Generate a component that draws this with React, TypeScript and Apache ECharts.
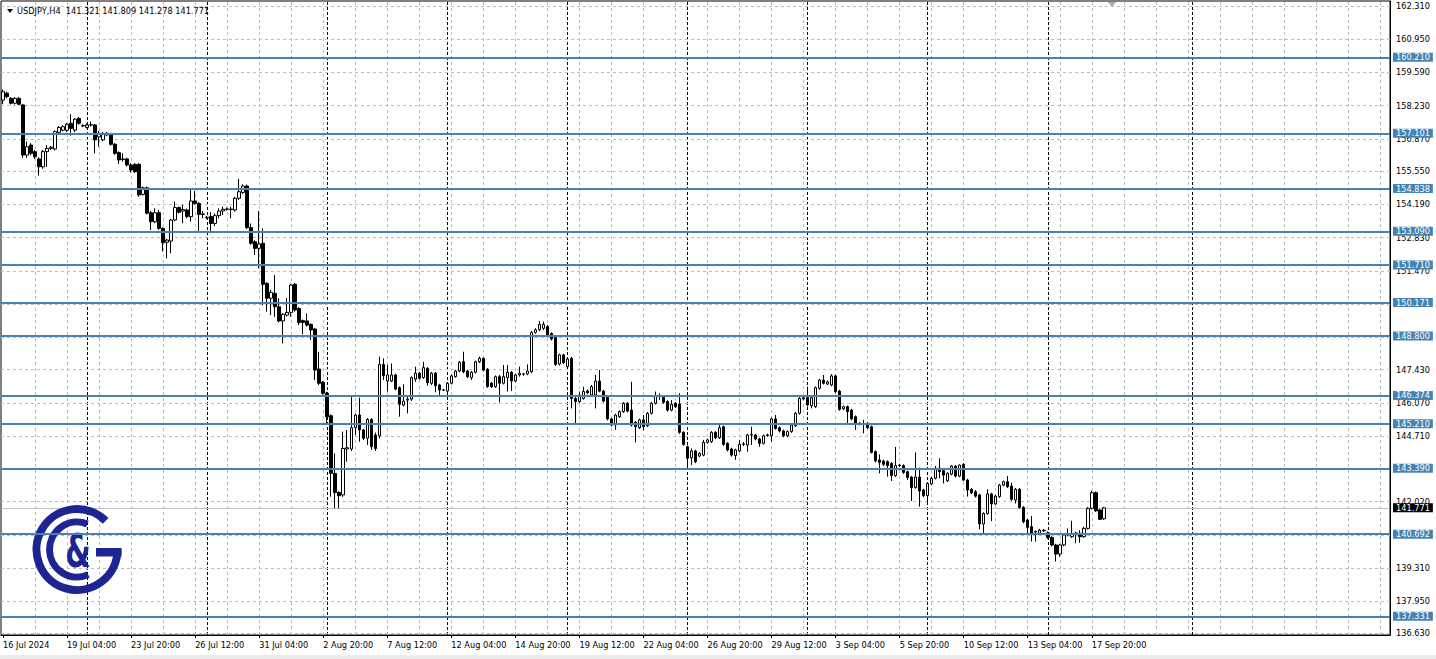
import React, { useEffect, useRef } from "react";
import * as echarts from "echarts";

// ---------- DATA ----------
const symbolTitle = "USDJPY,H4";
const lastQuote = [141.321, 141.809, 141.278, 141.771]; // open, high, low, close of the current bar

const xLabels = [
  "16 Jul 2024", "19 Jul 04:00", "23 Jul 20:00", "26 Jul 12:00", "31 Jul 04:00", "2 Aug 20:00",
  "7 Aug 12:00", "12 Aug 04:00", "14 Aug 20:00", "19 Aug 12:00", "22 Aug 04:00", "26 Aug 20:00",
  "29 Aug 12:00", "3 Sep 04:00", "5 Sep 20:00", "10 Sep 12:00", "13 Sep 04:00", "17 Sep 20:00",
];

const yTicks = [
  162.31, 160.95, 159.59, 158.23, 156.87, 155.55, 154.19, 152.83, 151.47, 150.11,
  148.75, 147.43, 146.07, 144.71, 143.35, 142.02, 140.66, 139.31, 137.95, 136.63,
];

const levels = [160.21, 157.101, 154.838, 153.09, 151.71, 150.171, 148.8, 146.374, 145.21, 143.39, 140.692, 137.331];
const currentPrice = 141.771;

// bar indices where the weekly period separators are drawn
const weekSeparators = [21, 51, 81, 111, 141, 171, 201, 231, 261, 297];

// [open, high, low, close]
const week1 = [
  [158.46, 158.90, 158.30, 158.80], [158.74, 158.80, 158.53, 158.60], [158.53, 158.58, 158.28, 158.33],
  [158.33, 158.58, 158.28, 158.53], [158.53, 158.58, 158.25, 158.29], [158.26, 158.30, 156.10, 156.21],
  [156.21, 156.76, 156.10, 156.55], [156.62, 156.70, 156.20, 156.28], [156.35, 156.42, 156.05, 156.14],
  [156.05, 156.12, 155.37, 155.73], [155.73, 156.42, 155.65, 156.35], [156.35, 156.62, 155.73, 156.48],
  [156.48, 156.58, 156.42, 156.53], [156.46, 157.22, 156.40, 157.17], [157.14, 157.40, 157.05, 157.34],
  [157.23, 157.43, 157.18, 157.37], [157.22, 157.52, 157.15, 157.47], [157.51, 157.88, 157.00, 157.30],
  [157.23, 157.73, 157.15, 157.68], [157.71, 157.77, 157.45, 157.51], [157.40, 157.47, 157.35, 157.42],
];
const week2 = [
  [157.34, 157.50, 157.30, 157.44], [157.44, 157.58, 157.38, 157.45], [157.44, 157.48, 156.28, 156.83],
  [156.95, 157.20, 156.55, 157.10], [156.83, 157.15, 156.78, 157.10], [157.10, 157.15, 156.98, 157.03],
  [157.06, 157.12, 156.60, 156.65], [156.65, 156.70, 156.22, 156.28], [156.31, 156.36, 155.84, 156.01],
  [156.02, 156.28, 155.94, 156.05], [156.05, 156.10, 155.74, 155.80], [155.80, 155.88, 155.50, 155.60],
  [155.83, 155.88, 155.48, 155.53], [155.83, 155.88, 154.50, 154.58], [154.60, 154.92, 154.55, 154.87],
  [154.87, 154.92, 153.78, 153.83], [153.85, 153.92, 153.14, 153.48], [153.48, 154.03, 153.42, 153.85],
  [153.85, 153.96, 153.15, 153.21], [153.21, 153.25, 152.26, 152.62], [152.64, 152.78, 151.98, 152.73],
  [152.69, 153.60, 152.19, 153.55], [153.55, 154.30, 153.50, 154.06], [154.06, 154.10, 153.82, 153.87],
  [153.92, 154.17, 153.42, 153.98], [153.96, 154.02, 153.62, 153.69], [153.69, 154.78, 153.48, 154.33],
  [154.33, 154.74, 154.18, 154.23], [154.23, 154.28, 153.07, 153.78], [153.78, 153.92, 153.62, 153.80],
];
const week3 = [
  [153.66, 153.72, 153.58, 153.64], [153.69, 153.87, 153.01, 153.41], [153.41, 153.82, 153.30, 153.73],
  [153.73, 154.03, 153.62, 153.92], [153.92, 154.10, 153.76, 153.99], [153.99, 154.06, 153.93, 154.00],
  [154.00, 154.10, 153.62, 153.98], [153.96, 154.50, 153.89, 154.44], [154.44, 155.23, 154.37, 154.71],
  [154.68, 155.01, 154.62, 154.94], [154.94, 155.00, 153.18, 153.24], [153.24, 153.41, 152.54, 152.60],
  [152.66, 152.72, 152.12, 152.39], [152.39, 153.92, 151.57, 152.57], [152.60, 153.21, 150.07, 150.92],
  [150.96, 151.00, 149.80, 150.35], [150.35, 150.69, 149.66, 150.59], [150.55, 151.30, 149.59, 150.00],
  [150.00, 150.35, 149.36, 149.42], [149.42, 149.74, 148.50, 149.69], [149.66, 150.35, 149.60, 149.77],
  [149.77, 150.94, 149.59, 150.89], [150.92, 150.97, 149.80, 149.87], [149.93, 149.98, 149.25, 149.36],
  [149.43, 149.48, 148.87, 149.36], [149.42, 149.73, 149.19, 149.25], [149.28, 149.32, 148.64, 149.05],
  [149.09, 149.14, 147.00, 147.41], [147.45, 148.16, 146.80, 146.87], [146.91, 146.96, 146.40, 146.46],
];
const week4 = [
  [146.46, 146.52, 145.23, 145.50], [145.54, 145.60, 142.23, 143.18], [143.18, 144.00, 141.75, 142.40],
  [142.40, 142.45, 141.75, 142.27], [142.30, 144.89, 142.22, 144.20], [144.18, 144.96, 143.66, 144.23],
  [144.18, 146.39, 144.10, 145.05], [145.05, 145.62, 144.75, 145.57], [145.57, 146.28, 144.48, 144.96],
  [144.96, 145.00, 144.55, 144.62], [144.62, 145.44, 144.34, 145.39], [145.39, 145.44, 144.14, 144.27],
  [144.75, 144.85, 144.10, 144.20], [144.72, 147.96, 144.61, 147.64], [147.64, 147.89, 147.00, 147.18],
  [146.96, 147.62, 146.53, 147.21], [146.96, 147.68, 146.92, 147.21], [147.21, 147.26, 146.58, 146.63],
  [146.69, 146.74, 145.50, 146.01], [145.98, 146.83, 145.92, 146.14], [146.18, 146.32, 145.64, 146.22],
  [146.22, 147.15, 146.15, 147.10], [147.04, 147.55, 146.93, 147.28], [147.28, 147.33, 147.02, 147.07],
  [147.10, 147.75, 147.05, 147.51], [147.48, 147.53, 146.77, 146.89], [146.87, 147.33, 146.80, 147.28],
  [147.28, 147.33, 146.50, 146.77], [146.80, 146.85, 146.32, 146.59], [146.59, 146.64, 146.55, 146.60],
];
const week5 = [
  [146.55, 146.92, 146.50, 146.87], [146.87, 147.23, 146.82, 147.17], [147.14, 147.42, 147.10, 147.37],
  [147.37, 147.78, 147.32, 147.73], [147.75, 148.16, 147.28, 147.34], [147.37, 147.42, 147.08, 147.14],
  [147.10, 147.37, 147.00, 147.32], [147.32, 147.80, 147.27, 147.75], [147.75, 147.96, 147.70, 147.89],
  [147.89, 147.92, 147.35, 147.41], [147.44, 147.49, 146.68, 146.73], [146.87, 146.92, 146.68, 146.73],
  [146.73, 147.19, 146.68, 147.14], [147.14, 147.21, 146.09, 146.87], [146.87, 147.62, 146.82, 147.14],
  [147.10, 147.62, 146.53, 147.32], [147.32, 147.37, 146.55, 146.96], [146.96, 147.26, 146.91, 147.21],
  [147.21, 147.55, 147.14, 147.28], [147.25, 147.30, 147.18, 147.24], [147.25, 147.64, 147.20, 147.37],
  [147.34, 149.00, 147.28, 148.95], [148.95, 149.12, 148.90, 149.06], [149.06, 149.42, 149.00, 149.28],
  [149.12, 149.39, 149.05, 149.28], [149.19, 149.25, 148.82, 148.84], [148.91, 148.96, 148.62, 148.68],
  [148.74, 148.79, 147.58, 147.64], [147.66, 148.08, 147.60, 148.03], [148.03, 148.08, 147.66, 147.71],
];
const week6 = [
  [147.55, 147.92, 147.50, 147.86], [147.89, 147.95, 145.84, 146.25], [146.25, 146.39, 145.20, 146.12],
  [146.12, 146.53, 146.06, 146.39], [146.25, 146.73, 146.20, 146.53], [146.55, 146.62, 146.42, 146.48],
  [146.39, 146.80, 146.34, 146.73], [146.39, 147.21, 145.84, 146.96], [146.96, 147.41, 146.50, 146.55],
  [146.55, 146.60, 146.08, 146.14], [146.32, 146.37, 145.35, 145.41], [145.41, 145.46, 145.10, 145.16],
  [145.16, 145.62, 144.96, 145.57], [145.50, 145.76, 145.45, 145.71], [145.71, 146.10, 145.66, 146.05],
  [146.05, 146.10, 145.68, 145.73], [145.77, 146.93, 145.10, 145.16], [145.27, 145.32, 144.45, 145.09],
  [145.05, 145.42, 145.00, 145.37], [145.37, 145.57, 144.95, 145.09], [145.13, 145.69, 145.08, 145.64],
  [145.64, 146.10, 145.59, 146.05], [146.05, 146.53, 146.00, 146.36], [146.36, 146.46, 146.18, 146.32],
  [146.32, 146.37, 146.03, 146.09], [146.12, 146.17, 145.71, 145.77], [145.77, 146.18, 145.72, 146.01],
  [146.05, 146.10, 145.85, 145.91], [146.01, 146.46, 144.80, 144.86], [144.86, 144.91, 144.31, 144.37],
];
const week7 = [
  [144.27, 144.32, 143.41, 143.80], [143.82, 144.20, 143.52, 144.10], [144.10, 144.15, 143.60, 143.66],
  [143.89, 144.05, 143.84, 144.00], [143.93, 144.55, 143.88, 144.45], [144.45, 144.60, 144.40, 144.55],
  [144.48, 144.91, 144.43, 144.86], [144.86, 144.91, 144.58, 144.64], [144.64, 145.19, 144.59, 145.05],
  [145.09, 145.14, 144.31, 144.37], [144.41, 144.46, 144.08, 144.14], [144.18, 144.23, 143.87, 143.93],
  [143.91, 144.19, 143.73, 144.14], [144.10, 144.55, 144.05, 144.37], [144.37, 144.46, 144.30, 144.39],
  [144.34, 144.80, 144.07, 144.75], [144.75, 145.09, 144.34, 144.77], [144.75, 144.80, 144.53, 144.59],
  [144.59, 144.64, 144.27, 144.41], [144.41, 144.77, 144.36, 144.72], [144.73, 144.81, 144.68, 144.76],
  [144.72, 145.46, 144.48, 145.41], [145.41, 145.57, 144.97, 145.02], [145.05, 145.10, 144.86, 144.92],
  [144.92, 144.97, 144.66, 144.72], [144.72, 144.94, 144.67, 144.89], [144.89, 145.21, 144.84, 145.16],
  [145.13, 145.69, 145.08, 145.64], [145.64, 146.30, 145.59, 146.25], [146.23, 146.33, 146.18, 146.28],
];
const week8 = [
  [146.28, 146.73, 145.92, 145.98], [145.95, 146.33, 145.84, 146.28], [145.91, 146.74, 145.86, 146.69],
  [146.66, 147.05, 146.61, 147.00], [147.00, 147.21, 146.82, 146.87], [146.84, 146.98, 146.79, 146.93],
  [146.80, 147.24, 146.75, 147.17], [147.17, 147.22, 146.47, 146.53], [146.55, 146.60, 145.74, 145.80],
  [145.82, 145.96, 145.77, 145.91], [145.91, 145.96, 145.16, 145.71], [145.77, 145.82, 145.35, 145.41],
  [145.50, 145.55, 144.96, 145.19], [145.23, 145.28, 145.15, 145.20], [145.20, 145.37, 144.82, 145.22],
  [145.23, 145.28, 145.00, 145.05], [145.09, 145.14, 144.00, 144.04], [144.07, 144.12, 143.63, 143.69],
  [143.73, 143.96, 143.18, 143.63], [143.69, 143.74, 143.49, 143.55], [143.66, 143.71, 143.05, 143.50],
  [143.59, 143.64, 142.87, 143.09], [143.09, 144.26, 143.04, 143.50], [143.50, 143.57, 143.44, 143.52],
  [143.50, 143.55, 143.16, 143.22], [143.25, 143.30, 142.91, 143.01], [143.03, 143.08, 142.05, 142.60],
  [142.60, 144.04, 142.55, 143.03], [143.03, 143.42, 141.82, 142.46], [142.50, 142.55, 142.21, 142.27],
];
const week9 = [
  [142.27, 142.82, 142.00, 142.77], [142.75, 143.03, 142.70, 142.98], [142.98, 143.48, 142.93, 143.39],
  [143.39, 143.80, 142.98, 143.25], [143.29, 143.34, 142.77, 143.11], [142.88, 143.23, 142.83, 143.18],
  [143.15, 143.52, 143.10, 143.48], [143.48, 143.52, 143.02, 143.07], [143.07, 143.55, 143.02, 143.52],
  [143.55, 143.60, 142.86, 142.91], [142.91, 142.96, 142.23, 142.50], [142.53, 142.58, 142.33, 142.39],
  [142.43, 142.50, 142.19, 142.25], [142.30, 142.35, 140.89, 141.11], [141.11, 141.59, 140.73, 141.54],
  [141.54, 142.53, 141.49, 142.34], [142.34, 142.39, 141.23, 141.93], [141.93, 142.30, 141.88, 142.25],
  [142.23, 142.75, 142.18, 142.70], [142.70, 142.89, 142.65, 142.84], [142.84, 143.07, 142.58, 142.64],
  [142.66, 142.80, 142.06, 142.12], [142.09, 142.58, 141.95, 142.53], [142.53, 142.58, 141.73, 141.79],
  [141.79, 141.84, 141.14, 141.20], [141.27, 141.32, 140.73, 140.97], [141.00, 141.44, 140.39, 140.73],
  [140.78, 140.85, 140.39, 140.80], [140.73, 140.91, 140.68, 140.86], [140.85, 140.90, 140.78, 140.83],
];
const week10 = [
  [140.75, 140.80, 140.50, 140.56], [140.56, 140.61, 140.19, 140.25], [140.25, 140.30, 139.57, 139.88],
  [139.88, 140.30, 139.77, 140.25], [140.25, 140.73, 140.20, 140.66], [140.66, 140.93, 140.60, 140.68],
  [140.59, 141.24, 140.54, 140.70], [140.72, 140.79, 140.32, 140.74], [140.73, 140.86, 140.34, 140.59],
  [140.59, 141.00, 140.54, 140.93], [140.93, 141.80, 140.88, 141.75], [141.75, 142.47, 141.70, 142.39],
  [142.39, 142.44, 141.60, 141.65], [141.68, 141.73, 141.27, 141.30], lastQuote,
];

// chart frame: number of H4 slots visible (bars plus the empty right shift)
const SLOT_COUNT = 347;
const LABEL_EVERY = 16;
const MINOR_GRID_EVERY = 8;
const Y_MIN = 136.566;
const Y_MAX = 162.515;

// ---------- STYLE ----------
const FONT = "DejaVu Sans";
const FS = 8.2;
const GRID_GRAY = "#bdbdbd";
const LEVEL_BLUE = "#4682B4";
const NAVY = "#1d2593";

export default function App() {
  const ref = useRef<HTMLDivElement>(null);

  useEffect(() => {
    if (!ref.current) return;
    const chart = echarts.init(ref.current, null, { renderer: "svg" });

    const bars = [...week1, ...week2, ...week3, ...week4, ...week5, ...week6, ...week7, ...week8, ...week9, ...week10];
    const candleData = bars.map(([o, h, l, c]) => [o, c, l, h]);
    const slots = Array.from({ length: SLOT_COUNT }, (_, i) => String(i));

    const tickLines = yTicks.map((v) => ({
      yAxis: v,
      lineStyle: { color: GRID_GRAY, type: [3, 3], width: 1 },
      label: { show: true, position: "end", distance: 6, formatter: v.toFixed(3), color: "#000", fontSize: FS, fontFamily: FONT },
    }));
    const minorVerticals: any[] = [];
    for (let i = MINOR_GRID_EVERY; i < SLOT_COUNT; i += MINOR_GRID_EVERY) {
      minorVerticals.push({ xAxis: i, lineStyle: { color: GRID_GRAY, type: [3, 3], width: 1 }, label: { show: false } });
    }
    const weekLines = weekSeparators.map((i) => ({
      xAxis: i,
      lineStyle: { color: "#000", type: [3, 2], width: 1 },
      label: { show: false },
    }));
    const priceLine = {
      yAxis: currentPrice,
      lineStyle: { color: "#c0c0c0", type: "solid", width: 1 },
      label: {
        show: true, position: "end", distance: 3, formatter: currentPrice.toFixed(3),
        color: "#fff", backgroundColor: "#000", padding: [1, 3, 0, 3], fontSize: FS, fontFamily: FONT,
      },
    };
    const levelLines = levels.map((v) => ({
      yAxis: v,
      lineStyle: { color: LEVEL_BLUE, type: "solid", width: 2 },
      label: {
        show: true, position: "end", distance: 3, formatter: v.toFixed(3),
        color: "#fff", backgroundColor: LEVEL_BLUE, padding: [1, 3, 0, 3], fontSize: FS, fontFamily: FONT,
      },
    }));

    const quoteText = `${symbolTitle}  ${lastQuote.map((v) => v.toFixed(3)).join(" ")}`;

    chart.setOption({
      animation: false,
      backgroundColor: "#fff",
      grid: { left: 1, top: 1, right: 46, bottom: 24, show: true, borderColor: "#000", borderWidth: 1, backgroundColor: "#fff" },
      xAxis: {
        type: "category",
        data: slots,
        boundaryGap: true,
        axisLine: { show: true, lineStyle: { color: "#000", width: 1 } },
        axisTick: {
          show: true, alignWithLabel: true, length: 3,
          interval: (idx: number) => idx % LABEL_EVERY === 0 && idx / LABEL_EVERY < xLabels.length,
          lineStyle: { color: "#000" },
        },
        axisLabel: {
          show: true,
          interval: (idx: number) => idx % LABEL_EVERY === 0 && idx / LABEL_EVERY < xLabels.length,
          formatter: (_v: string, idx: number) => (idx % LABEL_EVERY === 0 ? xLabels[idx / LABEL_EVERY] ?? "" : ""),
          align: "left", color: "#000", fontSize: FS, fontFamily: FONT, margin: 6,
        },
        splitLine: { show: false },
      },
      yAxis: {
        type: "value",
        position: "right",
        min: Y_MIN,
        max: Y_MAX,
        axisLine: { show: true, lineStyle: { color: "#000", width: 1 } },
        axisTick: { show: false },
        axisLabel: { show: false },
        splitLine: { show: false },
      },
      series: [
        {
          type: "line",
          data: [],
          silent: true,
          markLine: {
            silent: true, z: 1, symbol: ["none", "none"], animation: false,
            data: [...minorVerticals, ...weekLines, ...tickLines, priceLine],
          },
        },
        {
          type: "candlestick",
          data: candleData,
          z: 2,
          barWidth: 3,
          silent: true,
          itemStyle: { color: "#fff", color0: "#000", borderColor: "#000", borderColor0: "#000", borderWidth: 1 },
        },
        {
          type: "line",
          data: [],
          silent: true,
          markLine: {
            silent: true, z: 5, symbol: ["none", "none"], animation: false,
            data: levelLines,
          },
        },
      ],
      graphic: [
        { type: "polygon", z: 10, shape: { points: [[7, 9], [13, 9], [10, 13]] }, style: { fill: "#000" } },
        {
          type: "text", z: 10, x: 17, y: 11,
          style: { text: quoteText, fill: "#000", fontSize: FS, fontFamily: FONT, verticalAlign: "middle" },
        },
        { type: "polygon", z: 10, shape: { points: [[1108, 2], [1116, 2], [1112, 7]] }, style: { fill: "#a8a8a8" } },
        { type: "rect", z: 10, shape: { x: 0, y: 655, width: 1436, height: 4 }, style: { fill: "#ececec" } },
        // logo
        {
          type: "arc", z: 3,
          shape: { cx: 77, cy: 549.5, r: 40.5, startAngle: 0, endAngle: (Math.PI * 7) / 4, clockwise: true },
          style: { stroke: NAVY, lineWidth: 8, fill: "none" },
        },
        { type: "rect", z: 3, shape: { x: 96, y: 548, width: 25.5, height: 8.5 }, style: { fill: NAVY } },
        {
          type: "arc", z: 3,
          shape: { cx: 77, cy: 549.5, r: 27.5, startAngle: 1.15, endAngle: 5.1, clockwise: true },
          style: { stroke: NAVY, lineWidth: 7, fill: "none" },
        },
        {
          type: "text", z: 3, x: 78, y: 551, scaleX: 0.62,
          style: { text: "&", fill: NAVY, fontSize: 47, fontWeight: "bold", fontFamily: FONT, align: "center", verticalAlign: "middle" },
        },
      ],
    });

    return () => chart.dispose();
  }, []);

  return (
    <div
      ref={ref}
      style={{ position: "absolute", left: 0, top: 0, width: 1436, height: 659, background: "#fff" }}
    />
  );
}
